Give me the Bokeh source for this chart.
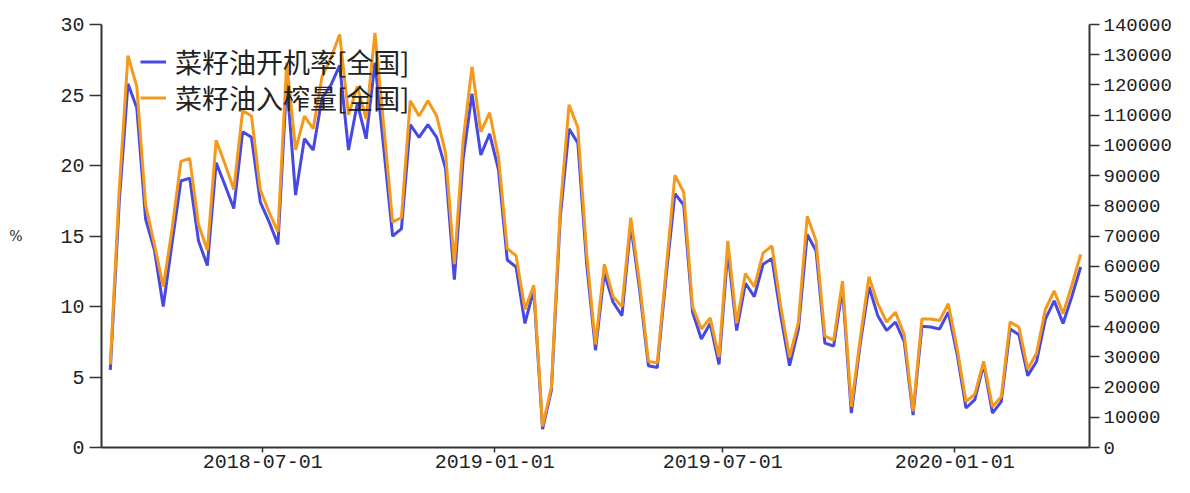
import pandas as pd
from bokeh.plotting import figure
from bokeh.models import (Range1d, LinearAxis, FixedTicker, SingleIntervalTicker,
                          DatetimeTickFormatter, BasicTickFormatter, Legend,
                          LegendItem, ColumnDataSource)
from bokeh.embed import file_html
from bokeh.resources import INLINE

# ---- data (weekly) ----
start_date = "2018-03-02"
n_weeks = 111

rate_pct = [5.5, 17.3, 25.8, 24.1, 16.2, 14.0, 10.0, 14.5, 18.9, 19.1,
            14.65, 12.9, 20.2, 18.6, 16.95, 22.4, 22.0, 17.4, 16.0, 14.4,
            26.0, 17.9, 21.9, 21.1, 24.8, 25.7, 27.1, 21.1, 24.4, 21.9,
            27.3, 21.2, 15.0, 15.5, 22.9, 22.0, 22.9, 22.0, 19.8, 11.9,
            20.5, 25.1, 20.75, 22.25, 19.7, 13.3, 12.8, 8.8, 11.2, 1.3,
            4.06, 16.3, 22.6, 21.6, 13.0, 6.9, 12.35, 10.3, 9.35, 15.8,
            11.2, 5.8, 5.67, 12.1, 18.0, 17.2, 9.6, 7.7, 8.8, 5.9,
            13.96, 8.3, 11.65, 10.7, 13.0, 13.4, 9.35, 5.8, 8.4, 15.1,
            13.96, 7.4, 7.2, 11.3, 2.44, 7.3, 11.4, 9.35, 8.3, 8.9,
            7.5, 2.3, 8.6, 8.55, 8.4, 9.6, 6.6, 2.8, 3.4, 5.9,
            2.44, 3.25, 8.4, 8.0, 5.1, 6.1, 9.1, 10.4, 8.8, 10.7,
            12.8]

crush_tons = [27500, 84900, 129700, 119500, 80300, 67200, 53200, 72300, 94700, 95700,
              73700, 65300, 101700, 93800, 85400, 111500, 109700, 85400, 77900, 71400,
              127400, 98500, 109700, 105500, 122700, 128800, 136700, 110100, 119500, 108700,
              137200, 106400, 74700, 76100, 114800, 109700, 114800, 109700, 97500, 60700,
              101700, 126000, 104500, 110800, 96100, 65800, 63500, 45700, 53700, 7000,
              20100, 78900, 113400, 105900, 63900, 34100, 60700, 49900, 46700, 76100,
              54400, 28500, 28000, 58800, 90100, 84500, 46700, 39200, 42900, 29900,
              68400, 41100, 57600, 53200, 64400, 66700, 46700, 29900, 41500, 76500,
              68400, 36900, 35500, 55100, 13500, 35900, 56500, 47600, 41500, 44800,
              37300, 12000, 42500, 42500, 42000, 47600, 32700, 15200, 17700, 28500,
              13500, 16800, 41500, 39900, 25900, 31300, 45700, 51800, 44300, 53700,
              63900]

x_tick_labels = ["2018-07-01", "2019-01-01", "2019-07-01", "2020-01-01"]
series_names = ["菜籽油开机率[全国]", "菜籽油入榨量[全国]"]

dates = pd.date_range(start=start_date, periods=n_weeks, freq="7D")
src = ColumnDataSource(dict(date=dates, rate=rate_pct, crush=crush_tons))

BLUE = "#4848E2"
ORANGE = "#F39A1C"
TXT = "#222222"
AX = "#333333"
NUM_FONT = "Liberation Mono"

W, H = 1174, 477
TOP, BOTTOM, LEFT, RIGHT = 24, 30, 101, 82
FRAME_H = H - TOP - BOTTOM

week = pd.Timedelta(days=7)
p = figure(width=W, height=H, x_axis_type="datetime",
           x_range=Range1d(dates[0] - week, dates[-1] + week),
           y_range=Range1d(0, 30),
           output_backend="svg", toolbar_location=None,
           min_border_left=LEFT, min_border_right=RIGHT,
           min_border_top=TOP, min_border_bottom=BOTTOM)
p.outline_line_color = None
p.grid.visible = False
p.background_fill_color = "white"

p.extra_y_ranges = {"vol": Range1d(0, 140000)}

r1 = p.line("date", "rate", source=src, line_color=BLUE, line_width=3)
r2 = p.line("date", "crush", source=src, y_range_name="vol",
            line_color=ORANGE, line_width=3)

# x axis
xa = p.xaxis[0]
tick_ms = [pd.Timestamp(t).value // 10**6 for t in x_tick_labels]
xa.ticker = FixedTicker(ticks=tick_ms)
xa.formatter = DatetimeTickFormatter(days="%Y-%m-%d", months="%Y-%m-%d",
                                     years="%Y-%m-%d", hours="%Y-%m-%d")
xa.major_tick_out = 5
xa.major_tick_in = 0
xa.minor_tick_line_color = None
xa.major_label_standoff = 2
xa.major_label_text_font_size = "20px"

# left axis
ya = p.yaxis[0]
ya.ticker = SingleIntervalTicker(interval=5, num_minor_ticks=0)
ya.major_tick_out = 12
ya.major_tick_in = 0
ya.minor_tick_line_color = None
ya.major_label_standoff = 5
ya.major_label_text_font_size = "20px"
ya.axis_label = "%"
ya.axis_label_orientation = "horizontal"
ya.axis_label_text_font_style = "normal"
ya.axis_label_text_font = "DejaVu Serif"
ya.axis_label_text_font_size = "14px"
ya.axis_label_text_color = TXT
ya.axis_label_standoff = 35

# right axis
ra = LinearAxis(y_range_name="vol",
                ticker=SingleIntervalTicker(interval=10000, num_minor_ticks=0),
                formatter=BasicTickFormatter(use_scientific=False))
ra.major_tick_out = 10
ra.major_tick_in = 0
ra.minor_tick_line_color = None
ra.major_label_standoff = 4
ra.major_label_text_font_size = "19px"
p.add_layout(ra, "right")

for ax in (xa, ya, ra):
    ax.axis_line_color = AX
    ax.axis_line_width = 2
    ax.major_tick_line_color = AX
    ax.major_tick_line_width = 1.5
    ax.major_label_text_font = NUM_FONT
    ax.major_label_text_color = TXT

# two one-row legends so that the row pitch can match the reference
ROW_H = 41
centers_from_top = [37, 73]
for item_label, rend, c in zip(series_names, [r1, r2], centers_from_top):
    lg = Legend(items=[LegendItem(label=item_label, renderers=[rend])],
                location=(39, FRAME_H - c - ROW_H / 2))
    lg.label_text_font = "Noto Sans CJK SC"
    lg.label_text_font_size = "27px"
    lg.label_text_color = TXT
    lg.glyph_width = 26
    lg.glyph_height = ROW_H
    lg.label_height = ROW_H
    lg.label_standoff = 9
    lg.spacing = 0
    lg.padding = 0
    lg.margin = 0
    lg.background_fill_alpha = 0
    lg.border_line_alpha = 0
    p.add_layout(lg, "center")

open("out.html", "w").write(file_html(p, INLINE))
